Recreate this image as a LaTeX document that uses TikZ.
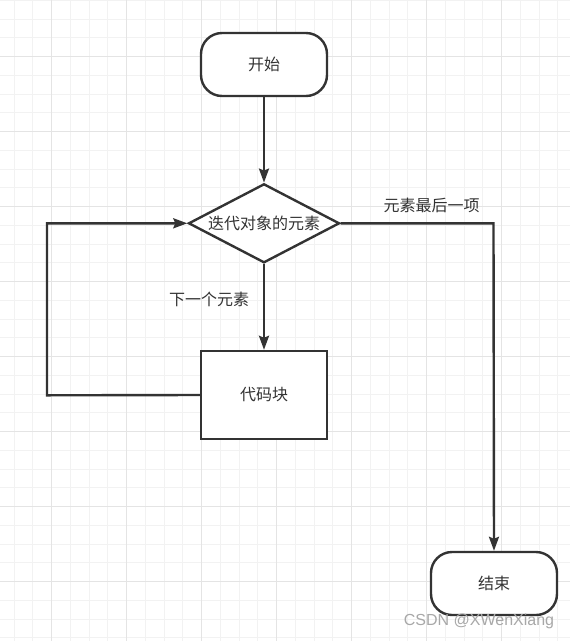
\documentclass[tikz,border=0pt]{standalone}
\usepackage{fontspec}
\setmainfont{Noto Sans CJK SC}
\newfontfamily\wmfont{Liberation Sans}
\usetikzlibrary{shapes.geometric,arrows.meta}
\definecolor{ln}{HTML}{333333}
\definecolor{gminor}{HTML}{F2F2F2}
\definecolor{gmajor}{HTML}{E4E4E4}
\definecolor{wm}{HTML}{A8A8A8}
\begin{document}
\begin{tikzpicture}[x=1pt,y=-1pt,
  every node/.style={font=\fontsize{16}{18}\selectfont, text=ln},
  term/.style={draw=ln, line width=2.4pt, rounded corners=21pt, fill=white,
    minimum width=126pt, minimum height=63pt, inner sep=0pt},
  proc/.style={draw=ln, line width=2.4pt, fill=white,
    minimum width=126pt, minimum height=88pt, inner sep=0pt},
  dec/.style={draw=ln, line width=2.4pt, fill=white, diamond, aspect=1.91,
    minimum width=151pt, minimum height=79pt, inner sep=0pt},
  conn/.style={draw=ln, line width=2.4pt, -{Stealth[length=14pt,width=10pt,inset=2pt]}},
  lbl/.style={font=\fontsize{16}{18}\selectfont, text=ln}]
\useasboundingbox (0,0) rectangle (570,641);
\fill[white] (0,0) rectangle (570,641);
% grid
\foreach \i in {0,...,30} {
  \draw[gminor, line width=1pt] ({14+18.75*\i},0) -- ({14+18.75*\i},641);
}
\foreach \i in {-1,...,33} {
  \draw[gminor, line width=1pt] (0,{19+18.75*\i}) -- (570,{19+18.75*\i});
}
\foreach \i in {0,...,7} {
  \draw[gmajor, line width=1pt] ({51.5+75*\i},0) -- ({51.5+75*\i},641);
  \draw[gmajor, line width=1pt] (0,{56.5+75*\i}) -- (570,{56.5+75*\i});
}
% nodes
\node[term] (start) at (264,64.5) {开始};
\node[dec] (loop) at (264,223.3) {迭代对象的元素};
\node[proc] (body) at (264,395) {代码块};
\node[term] (end) at (494,583.5) {结束};
\coordinate (lb) at (47,395.3);
\coordinate (lt) at (47,223.3);
\coordinate (rt) at (493.5,223.3);
% connectors
\draw[conn] (start) -- (loop);
\draw[conn] (loop) -- (body);
\draw[conn] (body.west) -- (lb) -- (lt) -- (loop.west);
\draw[conn] (loop.east) -- (rt) -- (end.north);
% labels
\node[lbl] (l1) at (431.5,205) {元素最后一项};
\node[lbl] (l2) at (209,299) {下一个元素};
\node[text=wm, font=\wmfont\fontsize{16}{18}\selectfont] (wmk) at (479,621.5) {CSDN @XWenXiang};
\end{tikzpicture}
\end{document}
